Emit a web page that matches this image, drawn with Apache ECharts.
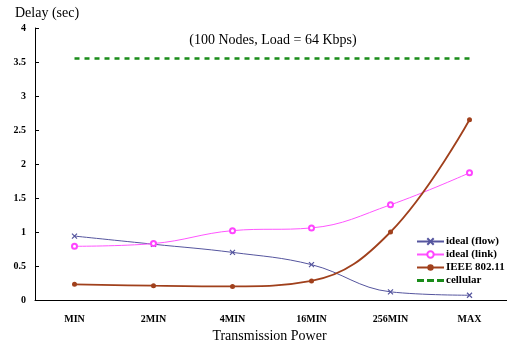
<!DOCTYPE html>
<html>
<head>
<meta charset="utf-8"/>
<title>Delay vs Transmission Power</title>
<script src="https://cdn.jsdelivr.net/npm/echarts@6/dist/echarts.min.js"></script>
</head>
<body style="margin:0">
<div id="chart" style="width:507px;height:340px;"></div>
<script type="text/javascript">
var categories = ['MIN', '2MIN', '4MIN', '16MIN', '256MIN', 'MAX'];
var idealFlow = [0.94, 0.82, 0.70, 0.52, 0.12, 0.07];
var idealLink = [0.79, 0.83, 1.02, 1.06, 1.40, 1.87];
var ieee80211 = [0.23, 0.21, 0.20, 0.28, 1.00, 2.65];
var cellular = [3.55, 3.55, 3.55, 3.55, 3.55, 3.55];
var yTicks = ['0', '0.5', '1', '1.5', '2', '2.5', '3', '3.5', '4'];

var serif = 'Liberation Serif';
var crossPath = 'path://M0,0L10,10M10,0L0,10';
var dashPath = 'path://M0,0h7v3h-7zM10,0h7v3h-7zM20,0h7v3h-7z';

var chart = echarts.init(document.getElementById('chart'));
var option = {
    animation: false,
    textStyle: { fontFamily: serif },
    title: {
        text: '(100 Nodes, Load = 64 Kbps)',
        left: 268, top: 28, textAlign: 'center',
        textStyle: { fontFamily: serif, fontSize: 14, fontWeight: 'normal', color: '#000' }
    },
    grid: { left: 35, top: 28, width: 474, bottom: 40, outerBoundsMode: 'none', containLabel: false },
    legend: {
        orient: 'vertical', left: 411, top: 231,
        itemWidth: 27, itemHeight: 8, itemGap: 2,
        textStyle: { fontFamily: serif, fontSize: 11, fontWeight: 'bold', color: '#000', padding: [0, 0, 0, -3] },
        data: ['ideal (flow)', 'ideal (link)', 'IEEE 802.11', { name: 'cellular', icon: dashPath, itemStyle: { color: '#1a8c1a' } }]
    },
    xAxis: {
        type: 'category', data: categories,
        name: 'Transmission Power', nameLocation: 'middle', nameGap: 28,
        nameTextStyle: { fontFamily: serif, fontSize: 14, color: '#000', padding: [0, 0, 0, -5] },
        axisLine: { lineStyle: { color: '#000', width: 1 } },
        axisTick: { inside: true, length: 4, lineStyle: { color: '#000' } },
        axisLabel: { fontFamily: serif, fontSize: 10, fontWeight: 'bold', color: '#000', margin: 14 },
        splitLine: { show: false }
    },
    yAxis: {
        type: 'value', min: 0, max: 4, interval: 0.5,
        name: 'Delay (sec)', nameLocation: 'end', nameGap: 8,
        nameTextStyle: { fontFamily: serif, fontSize: 14, color: '#000', align: 'left', padding: [0, 0, 0, -20] },
        axisLine: { show: true, lineStyle: { color: '#000', width: 1 } },
        axisTick: { show: true, inside: true, length: 4, lineStyle: { color: '#000' } },
        axisLabel: {
            fontFamily: serif, fontSize: 10, fontWeight: 'bold', color: '#000', margin: 9,
            formatter: function (v) { return yTicks[Math.round(v * 2)]; }
        },
        splitLine: { show: false }
    },
    series: [
        {
            name: 'ideal (flow)', type: 'line', smooth: 0.4, data: idealFlow,
            symbol: crossPath, symbolSize: 5,
            lineStyle: { color: '#55559e', width: 1 },
            itemStyle: { color: '#55559e', borderColor: '#55559e', borderWidth: 1.2 }
        },
        {
            name: 'ideal (link)', type: 'line', smooth: 0.4, data: idealLink,
            symbol: 'emptyCircle', symbolSize: 5,
            lineStyle: { color: '#ff55ff', width: 1 },
            itemStyle: { color: '#ff44ff', borderColor: '#ff44ff', borderWidth: 1.2 }
        },
        {
            name: 'IEEE 802.11', type: 'line', smooth: 0.4, data: ieee80211,
            symbol: 'circle', symbolSize: 5,
            lineStyle: { color: '#a0401c', width: 1.8 },
            itemStyle: { color: '#a0401c' }
        },
        {
            name: 'cellular', type: 'line', data: cellular,
            symbol: 'none',
            lineStyle: { color: '#1a8c1a', width: 2.5, type: [5, 5] },
            itemStyle: { color: '#1a8c1a' }
        }
    ]
};
chart.setOption(option);
</script>
</body>
</html>
